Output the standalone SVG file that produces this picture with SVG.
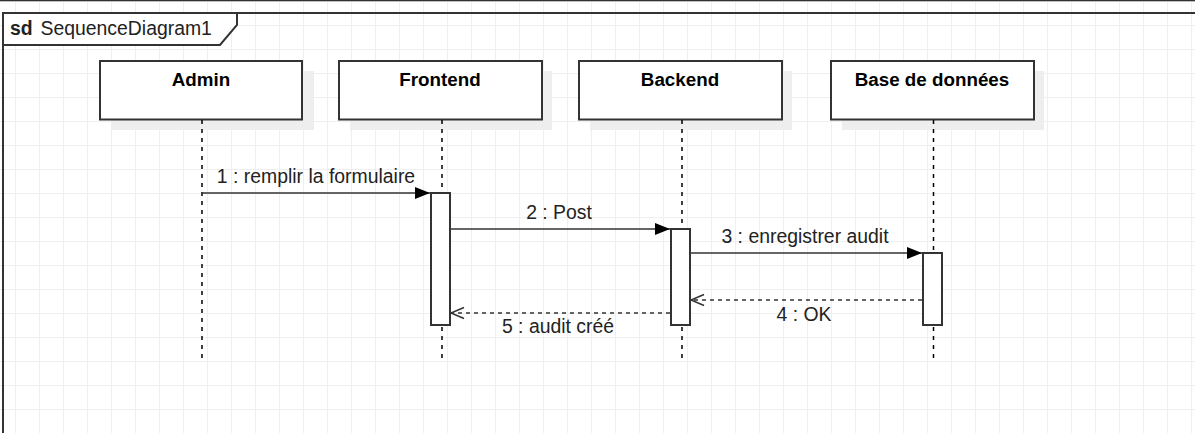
<svg xmlns="http://www.w3.org/2000/svg" width="1195" height="433" viewBox="0 0 1195 433">
<style>
.t{font-family:"Liberation Sans",Arial,sans-serif;fill:#222}
.msg{font-size:19.4px;text-anchor:middle}
.hd{font-size:18.8px;font-weight:bold;text-anchor:middle;fill:#000}
.box{fill:#fff;stroke:#333;stroke-width:2}
.shadow{fill:#eeeeee}
.life{stroke:#000;stroke-width:1.5;stroke-dasharray:4 5;fill:none}
.act{fill:#fff;stroke:#333;stroke-width:2}
.call{stroke:#333;stroke-width:1.5;fill:none}
.ret{stroke:#333;stroke-width:1.5;fill:none;stroke-dasharray:4 4}
</style>
<defs>
<pattern id="grid" patternUnits="userSpaceOnUse" x="15" y="1" width="24" height="24">
<path d="M0 0.5H24M0.5 0V24" stroke="#efefef" stroke-width="1.2" fill="none"/>
</pattern>
<marker id="fill" markerWidth="16" markerHeight="13" refX="15" refY="6.5" orient="auto" markerUnits="userSpaceOnUse">
<path d="M0,0.5 L15,6.5 L0,12.5 Z" fill="#000"/>
</marker>
<marker id="open" markerWidth="16" markerHeight="14" refX="14" refY="7" orient="auto" markerUnits="userSpaceOnUse">
<path d="M1,1.5 L14,7 L1,12.5" fill="none" stroke="#333" stroke-width="1.5"/>
</marker>
</defs>
<rect width="1195" height="433" fill="#fff"/>
<rect width="1195" height="433" fill="url(#grid)"/>
<line x1="0" y1="0.5" x2="1195" y2="0.5" stroke="#333" stroke-width="1.5"/>
<g id="frame">
<path d="M3,433 V13 H1196" fill="none" stroke="#333" stroke-width="2"/>
<path d="M3,13 H237 V25 L220,45 H3 Z" fill="#fff" stroke="#333" stroke-width="2"/>
<text class="t" x="10" y="35" font-size="19.4px" font-weight="bold" fill="#000">sd</text>
<text class="t" x="40.5" y="35" font-size="19.4px">SequenceDiagram1</text>
</g>
<g id="admin">
<rect class="shadow" x="111" y="71" width="203" height="59"/>
<rect class="box" x="100" y="61" width="202" height="58.5"/>
<text class="t hd" x="201" y="86">Admin</text>
<line class="life" x1="202" y1="120" x2="202" y2="359"/>
</g>
<g id="frontend">
<rect class="shadow" x="350" y="71" width="202" height="59"/>
<rect class="box" x="339" y="61" width="203" height="58.5"/>
<text class="t hd" x="440" y="86">Frontend</text>
<line class="life" x1="442" y1="120" x2="442" y2="359"/>
<rect class="act" x="431" y="193" width="19" height="132"/>
</g>
<g id="backend">
<rect class="shadow" x="590" y="71" width="202" height="59"/>
<rect class="box" x="579" y="61" width="203" height="58.5"/>
<text class="t hd" x="680" y="86">Backend</text>
<line class="life" x1="682" y1="120" x2="682" y2="359"/>
<rect class="act" x="671" y="229" width="19" height="96"/>
</g>
<g id="base">
<rect class="shadow" x="842" y="71" width="202" height="59"/>
<rect class="box" x="831" y="61" width="203" height="58.5"/>
<text class="t hd" x="932" y="86">Base de données</text>
<line class="life" x1="933.5" y1="120" x2="933.5" y2="359"/>
<rect class="act" x="923" y="253" width="19" height="72"/>
</g>
<g id="connectors">
<line class="call" x1="202" y1="193" x2="430" y2="193" marker-end="url(#fill)"/>
<text class="t msg" x="316" y="182.5">1 : remplir la formulaire</text>
<line class="call" x1="450" y1="229" x2="670" y2="229" marker-end="url(#fill)"/>
<text class="t msg" x="559" y="219">2 : Post</text>
<line class="call" x1="690" y1="253" x2="922" y2="253" marker-end="url(#fill)"/>
<text class="t msg" x="805" y="242.5">3 : enregistrer audit</text>
<line class="ret" x1="922" y1="300" x2="691" y2="300" marker-end="url(#open)"/>
<text class="t msg" x="804" y="320.5">4 : OK</text>
<line class="ret" x1="670" y1="313" x2="451" y2="313" marker-end="url(#open)"/>
<text class="t msg" x="558" y="332.5">5 : audit créé</text>
</g>
</svg>
